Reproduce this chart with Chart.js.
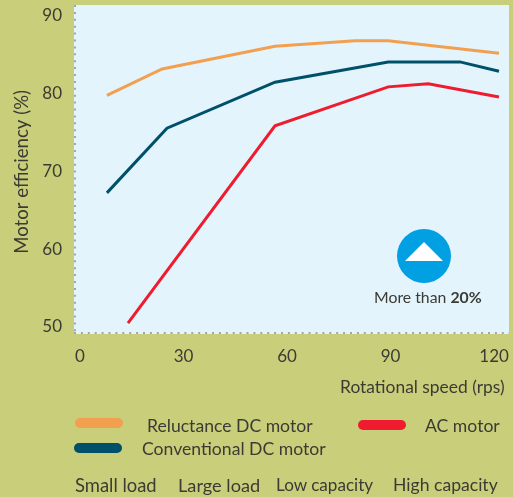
<!DOCTYPE html>
<html>
<head>
<meta charset="utf-8">
<script src="https://cdn.jsdelivr.net/npm/chart.js@4"></script>
<style>
body { margin: 0; background: #c9ce7b; }
#wrap { position: relative; width: 513px; height: 497px; overflow: hidden; font-family: Lato, sans-serif; color: #3b3b33; }
canvas { position: absolute; left: 0; top: 0; }
.t { position: absolute; font-size: 17.6px; line-height: 20px; white-space: nowrap; }
.sw { position: absolute; width: 48px; height: 10px; border-radius: 5px; }
#circle { position: absolute; left: 397px; top: 229px; width: 54px; height: 54px; border-radius: 50%; background: #00a0e3; }
#tri { position: absolute; left: 405px; top: 242px; width: 38px; height: 19px; background: #fff; clip-path: polygon(50% 0, 100% 100%, 0 100%); }
</style>
</head>
<body>
<div id="wrap">
<canvas id="myChart" width="513" height="497"></canvas>
<div class="sw" style="left:75px;top:418px;background:#f2a04f"></div>
<div class="sw" style="left:74px;top:443px;background:#00506a"></div>
<div class="sw" style="left:358px;top:420px;background:#ee1c2e"></div>
<div class="t" style="left:147px;top:416px">Reluctance DC motor</div>
<div class="t" style="left:142px;top:439px">Conventional DC motor</div>
<div class="t" style="left:425px;top:416px">AC motor</div>
<div class="t" style="left:75px;top:475px;font-size:18.4px">Small load</div>
<div class="t" style="left:178px;top:475px;font-size:18.2px">Large load</div>
<div class="t" style="left:276px;top:475px;font-size:17.1px">Low capacity</div>
<div class="t" style="left:393px;top:475px">High capacity</div>
<div id="circle"></div>
<div id="tri"></div>
<div class="t" style="left:374px;top:287px;font-size:15.8px">More than <b>20%</b></div>
</div>
<script>
const xTicks = [0, 30, 60, 90, 120];
const yTicks = [50, 60, 70, 80, 90];

const reluctanceX = [7.8, 23.8, 56.5, 79.7, 89.3, 121.4];
const reluctanceY = [79.7, 83.1, 86, 86.7, 86.7, 85.1];

const conventionalX = [7.8, 25.2, 56.5, 89.3, 110.1, 121.4];
const conventionalY = [67.2, 75.5, 81.4, 84, 84, 82.8];

const acX = [13.9, 56.5, 89.3, 100.9, 121.4];
const acY = [50.5, 75.8, 80.8, 81.2, 79.5];

function points(xs, ys) {
	return xs.map(function (x, i) { return { x: x, y: ys[i] }; });
}

// light blue behind the plot, dotted axis lines on its left and bottom edges
const plotBg = {
	id: 'plotBg',
	beforeDraw: function (chart) {
		const a = chart.chartArea;
		chart.ctx.save();
		chart.ctx.fillStyle = '#e3f4fd';
		chart.ctx.fillRect(a.left, a.top, a.right - a.left, a.bottom - a.top);
		chart.ctx.restore();
	},
	afterDraw: function (chart) {
		const a = chart.chartArea;
		const c = chart.ctx;
		c.save();
		c.strokeStyle = '#a5a3ad';
		c.lineWidth = 2;
		c.setLineDash([2, 4.9]);
		c.beginPath();
		c.moveTo(a.left + 1, a.top);
		c.lineTo(a.left + 1, a.bottom);
		c.moveTo(a.left, a.bottom - 1);
		c.lineTo(a.right, a.bottom - 1);
		c.stroke();
		c.restore();
	}
};

const ctx = document.getElementById('myChart').getContext('2d');
const tickFont = { family: 'Lato', size: 17 };

const myChart = new Chart(ctx, {
	type: 'line',
	data: {
		datasets: [
			{ label: 'Reluctance DC motor', data: points(reluctanceX, reluctanceY), borderColor: '#f2a04f', borderWidth: 3 },
			{ label: 'Conventional DC motor', data: points(conventionalX, conventionalY), borderColor: '#00506a', borderWidth: 3 },
			{ label: 'AC motor', data: points(acX, acY), borderColor: '#ee1c2e', borderWidth: 3 }
		]
	},
	options: {
		responsive: false,
		animation: false,
		layout: { padding: { left: 0, right: 4, top: 5, bottom: 0 } },
		elements: { point: { radius: 0 }, line: { tension: 0 } },
		plugins: { legend: { display: false }, tooltip: { enabled: false } },
		scales: {
			x: {
				type: 'linear',
				min: -1.74,
				max: 124.3,
				afterFit: function (s) { s.height = 163; s.paddingLeft = 0; s.paddingRight = 0; },
				afterBuildTicks: function (s) { s.ticks = xTicks.map(function (v) { return { value: v }; }); },
				grid: { display: false, drawTicks: false },
				border: { display: false },
				ticks: { color: '#3b3b33', font: tickFont, padding: 12, maxRotation: 0, autoSkip: false },
				title: {
					display: true,
					text: 'Rotational speed (rps) ',
					align: 'end',
					color: '#3b3b33',
					font: { family: 'Lato', size: 17.4 },
					padding: { top: 0, bottom: 99 }
				}
			},
			y: {
				min: 49.1,
				max: 91.3,
				afterFit: function (s) { s.width = 74; s.paddingTop = 0; s.paddingBottom = 0; },
				afterBuildTicks: function (s) { s.ticks = yTicks.map(function (v) { return { value: v }; }); },
				grid: { display: false, drawTicks: false },
				border: { display: false },
				ticks: { color: '#3b3b33', font: tickFont, padding: 12, autoSkip: false },
				title: {
					display: true,
					text: 'Motor efficiency (%) ',
					color: '#3b3b33',
					font: { family: 'Lato', size: 18.6 },
					padding: { top: 11, bottom: 0 }
				}
			}
		}
	},
	plugins: [plotBg]
});
</script>
</body>
</html>
